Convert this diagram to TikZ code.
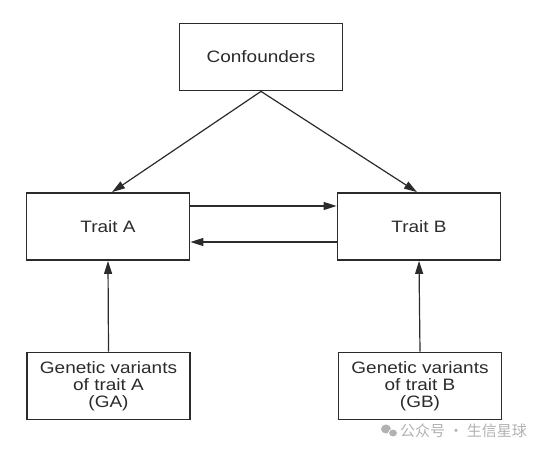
\documentclass[tikz,border=0pt]{standalone}
\usepackage{fontspec}
\setmainfont{Liberation Sans}[FakeStretch=1.15]
\newfontfamily\cjkfont{Noto Sans CJK SC}
\usetikzlibrary{arrows.meta,shapes.geometric}
\definecolor{ink}{HTML}{2b2b2b}
\begin{document}
\begin{tikzpicture}[x=1pt,y=-1pt,
    box/.style={draw=ink,line width=1.8pt,fill=white,minimum width=163pt,minimum height=67pt,
      align=center,text=ink,font=\fontsize{16.5}{17}\selectfont},
    link/.style={draw=ink,line width=1.2pt,-{Triangle[length=13pt,width=8pt]}}]
  \useasboundingbox (0,0) rectangle (542,449);
  \node[box] (conf) at (261,57) {Confounders};
  \node[box] (traitA) at (108,226.5) {Trait A};
  \node[box] (traitB) at (419,226.5) {Trait B};
  \node[box] (gA) at (108.5,386) {Genetic variants\\of trait A\\(GA)};
  \node[box] (gB) at (420,386) {Genetic variants\\of trait B\\(GB)};
  % confounding paths
  \draw[link] (conf.south) -- ([xshift=4pt]traitA.north);
  \draw[link] (conf.south) -- ([xshift=-2pt]traitB.north);
  % causal directions between the traits
  \draw[link] ([yshift=20.5pt]traitA.east) -- ([yshift=20.5pt]traitB.west);
  \draw[link] ([yshift=-15.5pt]traitB.west) -- ([yshift=-15.5pt]traitA.east);
  % instruments
  \draw[link] (gA.north) -- (traitA.south);
  \draw[link] (gB.north) -- (traitB.south);
  % watermark
  \node[fill=black!30,ellipse,inner sep=0pt,minimum width=10pt,minimum height=9pt] (wmA) at (386,429) {};
  \node[fill=black!30,draw=white,line width=0.8pt,ellipse,inner sep=0pt,minimum width=9pt,minimum height=8pt] (wmB) at (393,433) {};
  \node[anchor=west,text=black!30,font=\cjkfont\fontsize{15}{15}\selectfont,inner sep=0pt] (wm) at (400,431) {公众号 · 生信星球};
\end{tikzpicture}
\end{document}
